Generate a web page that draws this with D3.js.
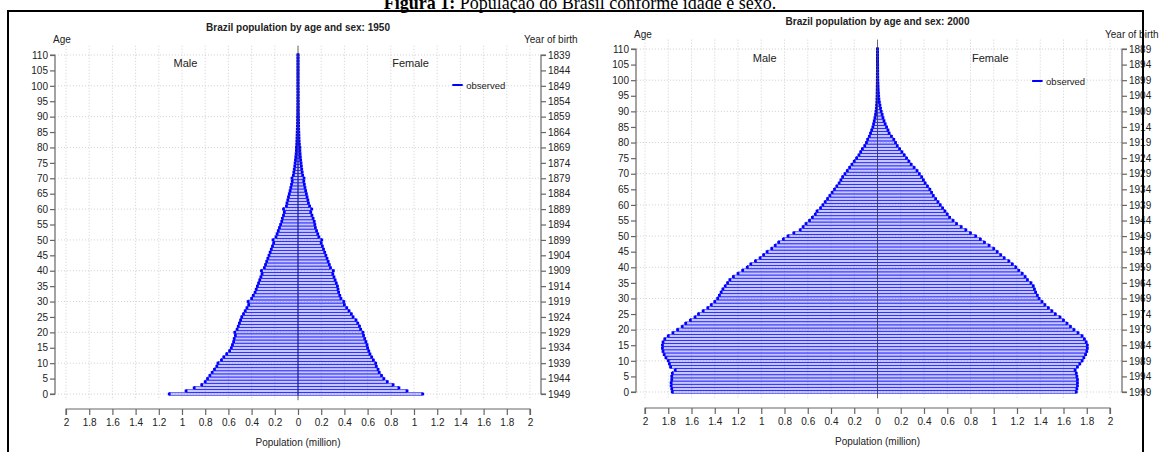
<!DOCTYPE html>
<html>
<head>
<meta charset="utf-8">
<script src="https://cdn.jsdelivr.net/npm/d3@7"></script>
<style>
  body { margin: 0; background: #fff; }
  svg text { font-family: "Liberation Sans", Arial, sans-serif; fill: #222; }
</style>
</head>
<body>
<svg id="fig" width="1160" height="452"></svg>
<script>
// ages 0..110, population in millions
const ages = d3.range(0, 111);

const male1950 = [1.11,0.965,0.895,0.83,0.80,0.78,0.76,0.74,0.72,0.70,
  0.69,0.66,0.64,0.615,0.59,0.575,0.565,0.555,0.55,0.54,
  0.545,0.525,0.515,0.505,0.495,0.485,0.47,0.455,0.44,0.425,
  0.43,0.40,0.385,0.37,0.36,0.35,0.34,0.33,0.32,0.31,
  0.315,0.29,0.28,0.27,0.26,0.25,0.24,0.23,0.22,0.21,
  0.215,0.19,0.18,0.17,0.16,0.15,0.14,0.135,0.125,0.118,
  0.125,0.10,0.095,0.088,0.082,0.075,0.068,0.062,0.056,0.05,
  0.052,0.04,0.036,0.032,0.028,0.025,0.022,0.019,0.016,0.014,
  0.014,0.011,0.01,0.009,0.008,0.007,0.006,0.005,0.0045,0.004,
  0.004,0.003,0.003,0.0025,0.002,0.002,0.002,0.0015,0.0015,0.0015,
  0.0015,0.001,0.001,0.001,0.001,0.001,0.001,0.001,0.001,0.001,
  0.001];

const female1950 = [1.075,0.94,0.87,0.82,0.77,0.74,0.72,0.70,0.69,0.675,
  0.67,0.65,0.635,0.62,0.61,0.60,0.595,0.585,0.575,0.565,
  0.56,0.54,0.53,0.515,0.50,0.475,0.46,0.44,0.42,0.40,
  0.395,0.37,0.36,0.35,0.345,0.34,0.33,0.32,0.31,0.30,
  0.305,0.28,0.27,0.26,0.25,0.24,0.23,0.22,0.21,0.20,
  0.205,0.18,0.17,0.16,0.15,0.145,0.14,0.13,0.12,0.11,
  0.118,0.10,0.09,0.085,0.078,0.072,0.066,0.06,0.055,0.05,
  0.052,0.04,0.036,0.032,0.029,0.026,0.023,0.02,0.018,0.016,
  0.016,0.012,0.01,0.009,0.008,0.007,0.006,0.0055,0.005,0.0045,
  0.0045,0.0035,0.003,0.003,0.0025,0.0025,0.002,0.002,0.002,0.0015,
  0.0015,0.001,0.001,0.001,0.001,0.001,0.001,0.001,0.001,0.001,
  0.001];

const male2000 = [1.765,1.77,1.775,1.775,1.77,1.77,1.765,1.74,1.78,1.79,
  1.80,1.82,1.835,1.845,1.85,1.85,1.845,1.83,1.80,1.76,
  1.72,1.68,1.65,1.61,1.57,1.54,1.50,1.46,1.43,1.40,
  1.375,1.36,1.345,1.33,1.31,1.29,1.27,1.24,1.20,1.16,
  1.12,1.09,1.05,1.01,0.98,0.95,0.91,0.88,0.85,0.81,
  0.77,0.72,0.665,0.64,0.615,0.585,0.56,0.535,0.52,0.49,
  0.47,0.45,0.43,0.41,0.39,0.37,0.35,0.33,0.315,0.30,
  0.28,0.26,0.24,0.22,0.20,0.18,0.16,0.145,0.13,0.11,
  0.095,0.085,0.07,0.06,0.05,0.04,0.034,0.028,0.022,0.017,
  0.013,0.01,0.008,0.006,0.005,0.004,0.0035,0.003,0.0025,0.002,
  0.002,0.0015,0.0015,0.001,0.001,0.001,0.001,0.001,0.001,0.001,
  0.001];

const female2000 = [1.71,1.715,1.72,1.72,1.72,1.715,1.71,1.70,1.72,1.74,
  1.76,1.775,1.79,1.80,1.805,1.805,1.795,1.78,1.76,1.725,
  1.69,1.66,1.63,1.60,1.57,1.53,1.50,1.47,1.44,1.415,
  1.39,1.375,1.36,1.35,1.34,1.32,1.29,1.27,1.245,1.215,
  1.19,1.16,1.13,1.09,1.06,1.03,1.0,0.96,0.92,0.885,
  0.845,0.80,0.76,0.72,0.68,0.65,0.62,0.60,0.58,0.56,
  0.54,0.52,0.50,0.48,0.465,0.45,0.43,0.41,0.395,0.38,
  0.36,0.34,0.315,0.29,0.27,0.25,0.23,0.21,0.19,0.17,
  0.155,0.14,0.12,0.10,0.09,0.078,0.066,0.056,0.047,0.04,
  0.032,0.026,0.021,0.016,0.012,0.01,0.008,0.006,0.005,0.004,
  0.003,0.0025,0.002,0.002,0.0015,0.0015,0.001,0.001,0.001,0.001,
  0.001];

// axis ticks
const ageTicks = d3.range(0, 111, 5);
const ageGrid = d3.range(0, 111, 10);
const popTicks = [-2,-1.8,-1.6,-1.4,-1.2,-1,-0.8,-0.6,-0.4,-0.2,0,0.2,0.4,0.6,0.8,1,1.2,1.4,1.6,1.8,2];

const svg = d3.select("#fig");
svg.append("rect").attr("width", 1160).attr("height", 452).attr("fill", "#fff");

function drawPyramid(cfg, male, female) {
  let g = svg.append("g");

  let x = d3.scaleLinear().domain([-2, 2]).range([cfg.xl, cfg.xr]);
  let y = d3.scaleLinear().domain([0, 110]).range([cfg.y0, cfg.y110]);
  let step = Math.abs(y(1) - y(0));

  // grid
  g.selectAll(".vgrid").data(popTicks).enter().append("line")
    .attr("x1", d => x(d)).attr("x2", d => x(d))
    .attr("y1", y(113)).attr("y2", y(-2))
    .attr("stroke", "#cfcfcf").attr("stroke-dasharray", "1,2");
  g.selectAll(".hgrid").data(ageGrid).enter().append("line")
    .attr("x1", x(-2.07)).attr("x2", cfg.axR)
    .attr("y1", d => y(d)).attr("y2", d => y(d))
    .attr("stroke", "#cfcfcf").attr("stroke-dasharray", "1,2");

  // bars
  let rows = ages.map(a => ({age: a, m: male[a], f: female[a]}));
  let h = step;
  g.selectAll(".mbar").data(rows).enter().append("rect")
    .attr("x", d => x(-d.m)).attr("width", d => x(0) - x(-d.m))
    .attr("y", d => y(d.age) - h / 2).attr("height", h)
    .attr("fill", "rgba(0,0,255,0.22)").attr("stroke", "#0000ff").attr("stroke-width", 0.5);
  g.selectAll(".fbar").data(rows).enter().append("rect")
    .attr("x", x(0)).attr("width", d => x(d.f) - x(0))
    .attr("y", d => y(d.age) - h / 2).attr("height", h)
    .attr("fill", "rgba(0,0,255,0.22)").attr("stroke", "#0000ff").attr("stroke-width", 0.5);

  // thick ends
  g.selectAll(".mend").data(rows).enter().append("line")
    .attr("x1", d => x(-d.m)).attr("x2", d => x(-d.m))
    .attr("y1", d => y(d.age) - step * 0.45).attr("y2", d => y(d.age) + step * 0.45)
    .attr("stroke", "#0000ff").attr("stroke-width", 2.8);
  g.selectAll(".fend").data(rows).enter().append("line")
    .attr("x1", d => x(d.f)).attr("x2", d => x(d.f))
    .attr("y1", d => y(d.age) - step * 0.45).attr("y2", d => y(d.age) + step * 0.45)
    .attr("stroke", "#0000ff").attr("stroke-width", 2.8);

  // centre line
  g.append("line")
    .attr("x1", x(0)).attr("x2", x(0)).attr("y1", y(113)).attr("y2", y(-2))
    .attr("stroke", "#444").attr("stroke-width", 0.8);

  // left age axis
  let ageAxis = d3.axisLeft(y).tickValues(ageTicks).tickSize(5).tickPadding(2);
  let ga = g.append("g").attr("transform", `translate(${cfg.axL},0)`).call(ageAxis);
  // right year-of-birth axis
  let yobAxis = d3.axisRight(y).tickValues(ageTicks).tickSize(5).tickPadding(2)
    .tickFormat(d => cfg.year - 1 - d);
  let gy = g.append("g").attr("transform", `translate(${cfg.axR},0)`).call(yobAxis);
  // bottom population axis
  let popAxis = d3.axisBottom(x).tickValues(popTicks).tickSize(6).tickPadding(4)
    .tickFormat(d => d3.format("~g")(Math.abs(d)));
  let gp = g.append("g").attr("transform", `translate(0,${cfg.axB})`).call(popAxis);

  [ga, gy, gp].forEach(a => {
    a.select(".domain").attr("stroke", "#666").attr("stroke-width", 1.2);
    a.selectAll(".tick line").attr("stroke", "#666").attr("stroke-width", 1.2);
    a.selectAll(".tick text").attr("font-size", 10).attr("fill", "#222")
      .attr("font-family", "Liberation Sans, Arial, sans-serif");
  });
  ga.select(".domain").attr("d", `M-5,${y(110)}H0V${y(0)}H-5`);
  gy.select(".domain").attr("d", `M5,${y(110)}H0V${y(0)}H5`);
  gp.select(".domain").attr("d", `M${x(-2)},6V0H${x(2)}V6`);

  // texts
  g.append("text").attr("x", x(0)).attr("y", cfg.titleY).attr("text-anchor", "middle")
    .attr("font-size", 10).attr("font-weight", "bold")
    .text(`Brazil population by age and sex: ${cfg.year}`);
  g.append("text").attr("x", cfg.axL + 7).attr("y", cfg.labY).attr("text-anchor", "middle")
    .attr("font-size", 10).text("Age");
  g.append("text").attr("x", cfg.axR - 17).attr("y", cfg.labY)
    .attr("font-size", 10).text("Year of birth");
  g.append("text").attr("x", x(0)).attr("y", cfg.axB + 37).attr("text-anchor", "middle")
    .attr("font-size", 10).text("Population (million)");
  g.append("text").attr("x", x(-0.97)).attr("y", cfg.sexY).attr("text-anchor", "middle")
    .attr("font-size", 11).text("Male");
  g.append("text").attr("x", x(0.97)).attr("y", cfg.sexY).attr("text-anchor", "middle")
    .attr("font-size", 11).text("Female");

  // legend
  g.append("line").attr("x1", x(1.33)).attr("x2", x(1.42))
    .attr("y1", cfg.legY).attr("y2", cfg.legY)
    .attr("stroke", "#0000ff").attr("stroke-width", 2);
  g.append("text").attr("x", x(1.45)).attr("y", cfg.legY + 3.5)
    .attr("font-size", 9.5).text("observed");
}

drawPyramid({year: 1950, xl: 66, xr: 530, y0: 394, y110: 55, axL: 55, axR: 541, axB: 409,
  titleY: 31, labY: 43, sexY: 67, legY: 85}, male1950, female1950);
drawPyramid({year: 2000, xl: 645, xr: 1110, y0: 392, y110: 49, axL: 636, axR: 1122, axB: 408,
  titleY: 25, labY: 38, sexY: 62, legY: 81}, male2000, female2000);

// figure frame and caption
svg.append("rect").attr("x", 8).attr("y", 11).attr("width", 1135).attr("height", 460)
  .attr("fill", "none").attr("stroke", "#000").attr("stroke-width", 2);

let cap = svg.append("text").attr("x", 580).attr("y", 9).attr("text-anchor", "middle")
  .style("font-family", "Liberation Serif, Times New Roman, serif").attr("font-size", 18)
  .style("fill", "#000");
cap.append("tspan").attr("font-weight", "bold").text("Figura 1:");
cap.append("tspan").text(" População do Brasil conforme idade e sexo.");
</script>
</body>
</html>
